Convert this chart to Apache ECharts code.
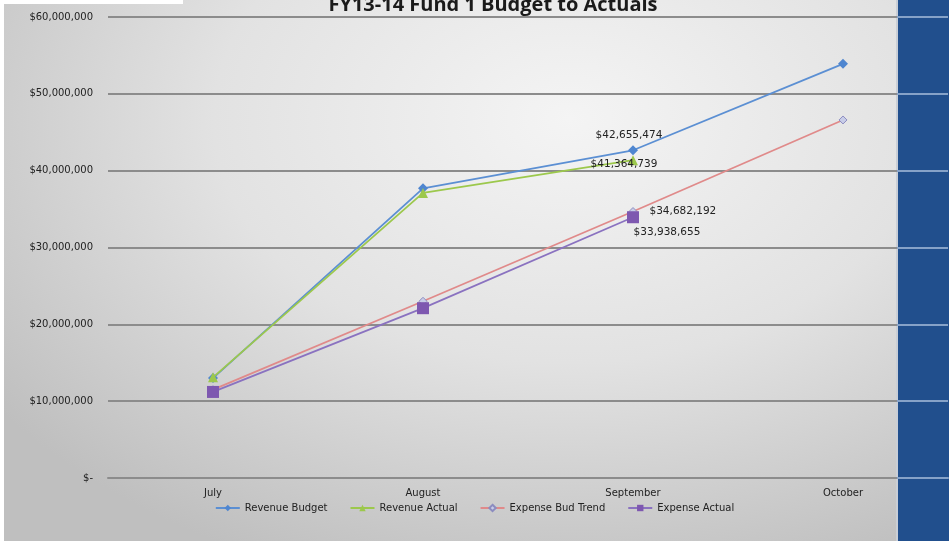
<!DOCTYPE html>
<html><head><meta charset="utf-8">
<script src="https://cdn.jsdelivr.net/npm/echarts@6/dist/echarts.min.js"></script>
<style>
html,body{margin:0;padding:0;background:#fff;}
#c{width:949px;height:541px;
  background:
    linear-gradient(#fff,#fff) 0 0/183px 4px no-repeat,
    linear-gradient(#fff,#fff) 0 0/4px 100% no-repeat,
    linear-gradient(#214f8d,#214f8d) 898px 0/51px 100% no-repeat,
    linear-gradient(#c9ced6,#c9ced6) 896px 0/2px 100% no-repeat,
    radial-gradient(ellipse 75% 90% at 60% 22%, #f4f4f4 0%, #e2e2e2 50%, #bfbfbf 100%);
}
</style>
</head><body><div id="c"></div>
<script>
const categories = ['July', 'August', 'September', 'October'];
const seriesNames = ['Revenue Budget', 'Revenue Actual', 'Expense Bud Trend', 'Expense Actual'];
const revenueBudget = [13000000, 37700000, 42655474, 53900000];
const revenueActual = [13100000, 37100000, 41364739, null];
const expenseBudTrend = [11500000, 23000000, 34682192, 46600000];
const expenseActual = [11200000, 22100000, 33938655, null];
const labeledIndex = 2;

const fmtMoney = v => '$' + Math.round(v).toLocaleString('en-US');
const FONT = 'DejaVu Sans';
const split = 897 / 949;
const gridLineColor = () => new echarts.graphic.LinearGradient(0, 0, 949, 0, [
  { offset: 0, color: '#8c8c8c' }, { offset: split, color: '#8c8c8c' },
  { offset: split, color: '#86a2c8' }, { offset: 1, color: '#86a2c8' }], true);

function buildData(values, labelCfg) {
  return values.map((v, i) => {
    if (i === labeledIndex && v != null) {
      return { value: v, label: Object.assign({ show: true, formatter: p => fmtMoney(p.value), color: '#222', fontSize: 10.5, fontFamily: FONT }, labelCfg) };
    }
    return v;
  });
}

const chart = echarts.init(document.getElementById('c'), null, { renderer: 'canvas' });
const option = {
  animation: false,
  backgroundColor: 'transparent',
  title: {
    text: 'FY13-14 Fund 1 Budget to Actuals',
    left: 488, textAlign: 'center', top: -10,
    textStyle: { fontFamily: 'Open Sans', fontWeight: 'bold', fontSize: 20, color: '#1a1a1a' }
  },
  legend: {
    bottom: 23, left: 'center', itemGap: 22, itemWidth: 24, itemHeight: 8,
    textStyle: { fontFamily: FONT, fontSize: 10, color: '#222' },
    data: seriesNames
  },
  grid: { left: 108, right: 1, top: 17, bottom: 63, containLabel: false },
  xAxis: {
    type: 'category', data: categories, boundaryGap: true,
    axisLine: { show: true, lineStyle: { color: gridLineColor(), width: 2 } },
    axisTick: { show: false },
    axisLabel: { fontFamily: FONT, fontSize: 10, color: '#222', margin: 10 }
  },
  yAxis: {
    type: 'value', min: 0, max: 60000000, interval: 10000000,
    axisLine: { show: false }, axisTick: { show: false },
    splitLine: { show: true, lineStyle: { color: gridLineColor(), width: 2 } },
    axisLabel: { fontFamily: FONT, fontSize: 10, color: '#222', margin: 15,
      formatter: v => v === 0 ? '$-' : fmtMoney(v) }
  },
  series: [
    { name: seriesNames[0], type: 'line', data: buildData(revenueBudget, { position: 'top', distance: 4, offset: [-4, 0] }),
      symbol: 'diamond', symbolSize: 10, lineStyle: { color: '#5b8fd3', width: 1.8 },
      itemStyle: { color: '#4f86d0' }, z: 5 },
    { name: seriesNames[1], type: 'line', data: buildData(revenueActual, { position: 'inside', offset: [-9, 4] }),
      symbol: 'triangle', symbolSize: 10, lineStyle: { color: '#9cc84c', width: 1.8 },
      itemStyle: { color: '#9cc84c' }, z: 6 },
    { name: seriesNames[2], type: 'line', data: buildData(expenseBudTrend, { position: 'right', distance: 12 }),
      symbol: 'diamond', symbolSize: 8, lineStyle: { color: '#e08a8a', width: 1.8 },
      itemStyle: { color: '#c8cde8', borderColor: '#8c8cc0', borderWidth: 1 }, z: 6 },
    { name: seriesNames[3], type: 'line', data: buildData(expenseActual, { position: 'inside', offset: [34, 15] }),
      symbol: 'rect', symbolSize: 12, lineStyle: { color: '#8a72c0', width: 1.8 },
      itemStyle: { color: '#7e58b0' }, z: 7 }
  ]
};
chart.setOption(option);
</script>
</body></html>
